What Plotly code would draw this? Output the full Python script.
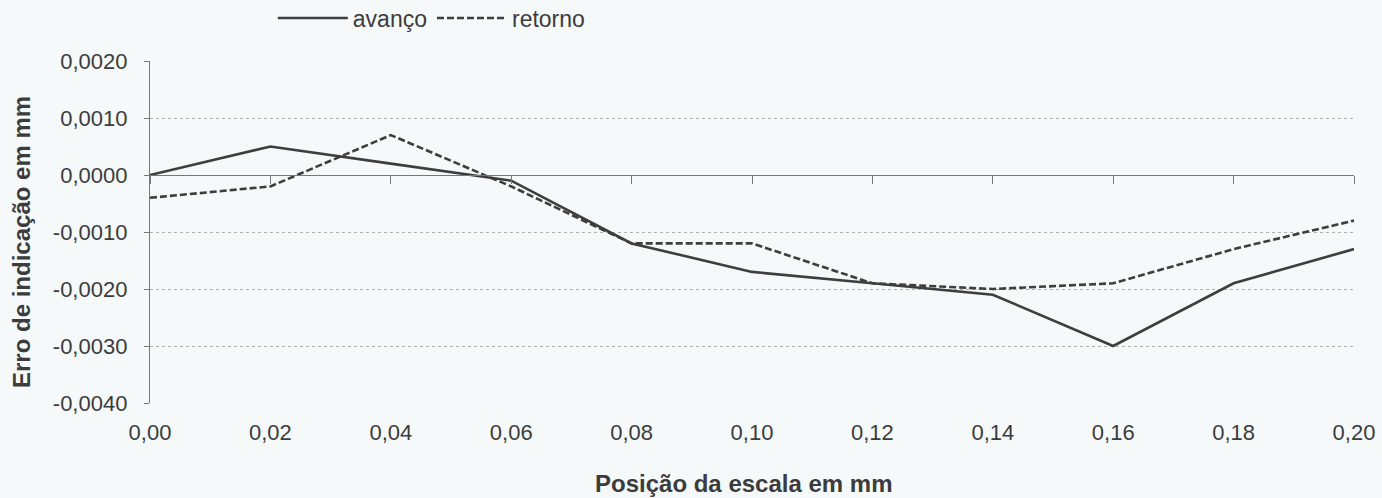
import plotly.graph_objects as go

posicao = [0.00, 0.02, 0.04, 0.06, 0.08, 0.10, 0.12, 0.14, 0.16, 0.18, 0.20]
avanco = [0.0, 0.0005, 0.0002, -0.0001, -0.0012, -0.0017, -0.0019, -0.0021, -0.0030, -0.0019, -0.0013]
retorno = [-0.0004, -0.0002, 0.0007, -0.0002, -0.0012, -0.0012, -0.0019, -0.0020, -0.0019, -0.0013, -0.0008]
y_ticks = [0.002, 0.001, 0.0, -0.001, -0.002, -0.003, -0.004]
y_tick_labels = ["0,0020", "0,0010", "0,0000", "-0,0010", "-0,0020", "-0,0030", "-0,0040"]
x_ticks = posicao
x_tick_labels = ["0,00", "0,02", "0,04", "0,06", "0,08", "0,10", "0,12", "0,14", "0,16", "0,18", "0,20"]

bg = "#f5f9fa"
ink = "#3e3e3e"
txt = "#3c3c3c"
font = "Liberation Sans, Arial, sans-serif"

fig = go.Figure()
fig.add_trace(go.Scatter(x=posicao, y=avanco, mode="lines", name="avanço",
                         line=dict(color=ink, width=2.6)))
fig.add_trace(go.Scatter(x=posicao, y=retorno, mode="lines", name="retorno",
                         line=dict(color=ink, width=2.6, dash="7px,3px")))
# invisible trace hosting the axis that crosses at zero (line + tick marks)
fig.add_trace(go.Scatter(x=[posicao[0], posicao[-1]], y=[0, 0], xaxis="x2", mode="lines",
                         line=dict(width=0), showlegend=False, hoverinfo="skip"))

fig.update_layout(
    width=1382, height=498,
    margin=dict(l=150, r=28, t=61, b=95, autoexpand=False),
    paper_bgcolor=bg, plot_bgcolor=bg,
    font=dict(family=font, size=22, color=txt),
    showlegend=True,
    legend=dict(orientation="h", x=0.102, y=(498 - 18) / 498, xref="paper", yref="container",
                xanchor="left", yanchor="middle", font=dict(size=23, color=txt),
                bgcolor="rgba(0,0,0,0)", itemwidth=70, traceorder="normal"),
    xaxis=dict(range=[0, 0.2], tickvals=x_ticks, ticktext=x_tick_labels, showline=False,
               showgrid=False, zeroline=False, ticks="", ticklabelstandoff=14,
               automargin=False, tickfont=dict(size=22, color=txt)),
    xaxis2=dict(range=[0, 0.2], overlaying="x", anchor="free", position=4/6, side="bottom",
                tickvals=x_ticks, showticklabels=False, showline=True, linecolor="#777",
                linewidth=1.3, ticks="outside", ticklen=8, tickcolor="#777",
                showgrid=False, zeroline=False, automargin=False),
    yaxis=dict(range=[-0.004, 0.002], tickvals=y_ticks, ticktext=y_tick_labels,
               showline=True, linecolor="#777", linewidth=1.3, ticks="outside",
               ticklen=5, tickcolor="#777", ticklabelstandoff=12,
               showgrid=True, gridcolor="#b0b0b0", automargin=False,
               griddash="dot", gridwidth=1, zeroline=False,
               tickfont=dict(size=22, color=txt)),
)
fig.add_annotation(text="<b>Erro de indicação em mm</b>", xref="paper", yref="paper",
                   x=(22 - 150) / 1204, y=(403 - 242) / 342, xanchor="center", yanchor="middle",
                   textangle=-90, showarrow=False, font=dict(size=24, color=txt))
fig.add_annotation(text="<b>Posição da escala em mm</b>", xref="paper", yref="paper",
                   x=(744 - 150) / 1204, y=(403 - 483) / 342, xanchor="center", yanchor="middle",
                   showarrow=False, font=dict(size=24, color=txt))

fig.write_html("out.html", config={"displayModeBar": False},
               post_script="document.body.style.margin='0px';document.body.style.background='%s';" % bg)
